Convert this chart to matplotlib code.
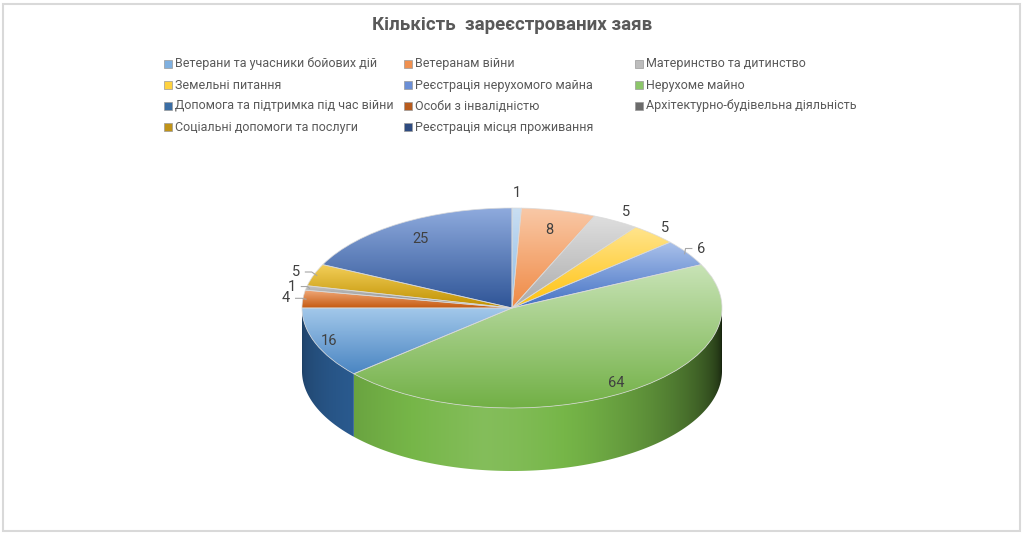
import numpy as np
import matplotlib
matplotlib.use("Agg")
import matplotlib.pyplot as plt
from matplotlib.patches import Rectangle, Polygon
import matplotlib.colors as mcolors

plt.rcParams['font.family'] = ['Roboto', 'DejaVu Sans']

# ---------------- data ----------------
title = "Кількість  зареєстрованих заяв"
categories = [
    "Ветерани та учасники бойових дій",
    "Ветеранам війни",
    "Материнство та дитинство",
    "Земельні питання",
    "Реєстрація нерухомого майна",
    "Нерухоме майно",
    "Допомога та підтримка під час війни",
    "Особи з інвалідністю",
    "Архітектурно-будівельна діяльність",
    "Соціальні допомоги та послуги",
    "Реєстрація місця проживання",
]
values = [1, 8, 5, 5, 6, 64, 16, 4, 1, 5, 25]

# top (light) and base (dark) colours of each slice
light_colors = ["#c9def2", "#f9c8a6", "#dedede", "#ffe48c", "#a9c0ea", "#c8e3b6",
                "#a2c7ea", "#f0a878", "#c4c4c4", "#f3cf5a", "#8eaadd"]
base_colors = ["#8dbbe6", "#f08a45", "#ababab", "#ffc20e", "#4472c4", "#72b046",
               "#4a86c2", "#c55a11", "#808080", "#bf9000", "#2f5597"]
side_colors = ["#5b9bd5", "#ed7d31", "#a5a5a5", "#ffc000", "#4472c4", "#76b648",
               "#2f65a0", "#b0500f", "#707070", "#a67c00", "#2a4a85"]
legend_colors = ["#7fb0e0", "#f0904f", "#bdbdbd", "#ffd23f", "#6b8fd6", "#8cc66a",
                 "#3b6ea5", "#b85c1e", "#6b6b6b", "#c09318", "#2e4b80"]

# label radius (relative to pie radius) per slice
label_r = [1.15, 0.80, 1.10, 1.08, 1.08, 0.90, 0.93, 1.08, 1.07, 1.09, 0.82]
leader = [False, False, False, False, True, False, False, True, True, True, False]

W, H = 1024, 534
fig = plt.figure(figsize=(W / 100, H / 100), dpi=100)
fig.patch.set_facecolor("white")

# frame
fig.patches.append(Rectangle((3 / W, 3 / H), 1 - 7 / W, 1 - 7 / H, transform=fig.transFigure,
                             fill=False, edgecolor="#d9d9d9", lw=1.5))

ax = fig.add_axes([0, 0, 1, 1])
cx, cy = 512, 308        # pixel centre of pie (from top)
rx, ry = 210, 100        # pixel radii
depth = 0.63             # rim depth in y units

wedges, _ = ax.pie(values, startangle=90, counterclock=False, radius=1.0,
                   colors=base_colors,
                   wedgeprops=dict(linewidth=0.6, edgecolor=(0.85, 0.85, 0.85, 0.8)))


# ---------------- rim (side walls) ----------------
def shade_x(x):
    # front half: x = cos(phi), phi in 180..360 -> shading by horizontal position
    phi = 360 - np.degrees(np.arccos(np.clip(x, -1, 1)))
    out = np.where(phi <= 262,
                   0.62 + 0.48 * (np.clip(phi - 180, 0, None) / 82) ** 0.8,
                   1.10 - 0.92 * (np.clip(phi - 262, 0, None) / 98) ** 1.5)
    return out


xs = np.linspace(-1, 1, 600)
fx = shade_x(xs)
for w, sc in zip(wedges, side_colors):
    t = np.linspace(w.theta1, w.theta2, 400)
    tf = t[(t % 360) >= 180]
    if tf.size < 2:
        continue
    rr = np.radians(tf)
    top = np.column_stack([np.cos(rr), np.sin(rr)])
    bot = np.column_stack([np.cos(rr[::-1]), np.sin(rr[::-1]) - depth])
    poly = Polygon(np.vstack([top, bot]), closed=True, facecolor="none", edgecolor="none")
    ax.add_patch(poly)
    rgb = np.array(mcolors.to_rgb(sc))
    row = np.where(fx[:, None] <= 1, rgb[None, :] * fx[:, None],
                   rgb[None, :] + (1 - rgb[None, :]) * (fx[:, None] - 1))
    img = np.clip(row, 0, 1)[None, :, :]
    im = ax.imshow(img, extent=(-1, 1, -1 - depth, 0), origin="upper", aspect="auto",
                   zorder=0, interpolation="bilinear")
    im.set_clip_path(poly)

# ---------------- gradient top faces ----------------
for w, lc, bc in zip(wedges, light_colors, base_colors):
    w.set_zorder(2)
    ext = w.get_path().get_extents()
    c1 = np.array(mcolors.to_rgb(lc))
    c2 = np.array(mcolors.to_rgb(bc))
    n = 64
    grad = np.linspace(0, 1, n)[:, None, None] * (c2 - c1) + c1
    im = ax.imshow(grad, extent=(ext.x0, ext.x1, ext.y0, ext.y1), origin="upper",
                   aspect="auto", zorder=1, interpolation="bilinear")
    im.set_clip_path(w)
    w.set_facecolor("none")

# ---------------- labels ----------------
for w, v, r, ld in zip(wedges, values, label_r, leader):
    th = np.radians(0.5 * (w.theta1 + w.theta2))
    lx, ly = r * np.cos(th), r * np.sin(th)
    ax.text(lx, ly, str(v), ha="center", va="center", fontsize=10.5, color="#404040", zorder=5)
    if ld:
        ex, ey = 0.985 * np.cos(th), 0.985 * np.sin(th)
        sx = lx + (0.045 if lx < 0 else -0.045)
        ax.plot([sx, sx + (0.03 if lx < 0 else -0.03), ex], [ly, ly, ey],
                color="#a6a6a6", lw=0.8, zorder=4)

ax.set_aspect("auto")
ax.set_xlim(-cx / rx, (W - cx) / rx)
ax.set_ylim(-(H - cy) / ry, cy / ry)
ax.axis("off")

# ---------------- title ----------------
fig.text(0.5, 1 - 25 / H, title, ha="center", va="center", fontsize=13.5, fontweight="bold",
         color="#595959")

# ---------------- legend ----------------
col_x = [168, 408, 639]
row_y = [64, 85, 106, 127]
for i, (name, lg) in enumerate(zip(categories, legend_colors)):
    r_, c_ = divmod(i, 3)
    mx, my = col_x[c_], row_y[r_]
    fig.patches.append(Rectangle(((mx - 4) / W, 1 - (my + 4) / H), 8 / W, 8 / H,
                                 transform=fig.transFigure, facecolor=lg,
                                 edgecolor="#9a9a9a", lw=0.5))
    fig.text((mx + 7) / W, 1 - my / H, name, ha="left", va="center", fontsize=9,
             color="#595959")

fig.savefig("out.png", dpi=100, facecolor="white")
